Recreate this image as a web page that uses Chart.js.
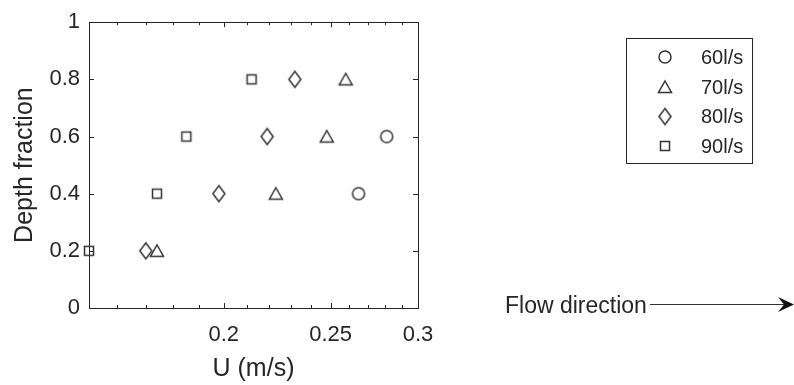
<!DOCTYPE html>
<html>
<head>
<meta charset="utf-8">
<script src="https://cdn.jsdelivr.net/npm/chart.js@4/dist/chart.umd.min.js"></script>
<style>
  html, body { margin: 0; padding: 0; background: #fff; }
  #wrap { width: 794px; height: 385px; }
</style>
</head>
<body>
<div id="wrap"><canvas id="chart" width="794" height="385"></canvas></div>
<script>
// data
const seriesLabels = ["60l/s", "70l/s", "80l/s", "90l/s"];
const depth60 = [0.4, 0.6];
const u60 = [0.265, 0.281];
const depthAll = [0.2, 0.4, 0.6, 0.8];
const u70 = [0.174, 0.223, 0.248, 0.258];
const u80 = [0.170, 0.198, 0.219, 0.232];
const u90 = [0.151, 0.174, 0.185, 0.212];

const xMajorTicks = [0.2, 0.25, 0.3];
const xMinorTicks = [0.16, 0.17, 0.18, 0.19, 0.21, 0.22, 0.23, 0.24, 0.26, 0.27, 0.28, 0.29];
const yTicks = [0, 0.2, 0.4, 0.6, 0.8, 1];

const INK = "#262626";
const MARK = "#333333";
const FONT = "'Liberation Sans', Arial, Helvetica, sans-serif";

function makeMarker(w, h, draw) {
  const c = document.createElement("canvas");
  c.width = w;
  c.height = h;
  const ctx = c.getContext("2d");
  ctx.strokeStyle = MARK;
  ctx.lineWidth = 1.5;
  ctx.beginPath();
  draw(ctx);
  ctx.stroke();
  return c;
}

const circleMark = makeMarker(20, 20, (ctx) => ctx.arc(10, 10, 6, 0, Math.PI * 2));
const triMark = makeMarker(20, 20, (ctx) => {
  ctx.moveTo(10, 4);
  ctx.lineTo(16.5, 15.5);
  ctx.lineTo(3.5, 15.5);
  ctx.closePath();
});
const diamondMark = makeMarker(16, 22, (ctx) => {
  ctx.moveTo(8, 3);
  ctx.lineTo(14, 11);
  ctx.lineTo(8, 19);
  ctx.lineTo(2, 11);
  ctx.closePath();
});
const squareMark = makeMarker(20, 20, (ctx) => ctx.rect(5.5, 5.5, 9, 9));
const markers = [circleMark, triMark, diamondMark, squareMark];

function pts(xs, ys) {
  return xs.map((x, i) => ({ x: x, y: ys[i] }));
}

const frame = {
  id: "frame",
  beforeDatasetsDraw(chart) {
    const ctx = chart.ctx;
    const { left, right, top, bottom } = chart.chartArea;
    const xs = chart.scales.x;
    const ys = chart.scales.y;
    ctx.save();
    ctx.strokeStyle = INK;
    ctx.lineWidth = 1;
    ctx.beginPath();
    const tick = (px, len) => {
      const p = Math.round(px) + 0.5;
      ctx.moveTo(p, bottom);
      ctx.lineTo(p, bottom - len);
      ctx.moveTo(p, top);
      ctx.lineTo(p, top + len);
    };
    xMinorTicks.forEach((v) => tick(xs.getPixelForValue(v), 3));
    xMajorTicks.forEach((v) => tick(xs.getPixelForValue(v), 5));
    yTicks.forEach((v) => {
      const p = Math.round(ys.getPixelForValue(v)) + 0.5;
      ctx.moveTo(left, p);
      ctx.lineTo(left + 5, p);
      ctx.moveTo(right, p);
      ctx.lineTo(right - 5, p);
    });
    ctx.stroke();
    ctx.strokeRect(Math.round(left) + 0.5, Math.round(top) + 0.5,
      Math.round(right - left), Math.round(bottom - top));
    ctx.restore();
  },
  afterDraw(chart) {
    const ctx = chart.ctx;
    ctx.save();
    // legend
    ctx.strokeStyle = INK;
    ctx.lineWidth = 1;
    ctx.fillStyle = "#fff";
    ctx.fillRect(626, 38, 126, 125);
    ctx.strokeRect(626.5, 38.5, 126, 125);
    ctx.fillStyle = INK;
    ctx.font = "20px " + FONT;
    ctx.textBaseline = "middle";
    ctx.textAlign = "left";
    const rowY = [57, 87, 116.5, 146];
    seriesLabels.forEach((lab, i) => {
      const m = markers[i];
      ctx.drawImage(m, 665 - m.width / 2, rowY[i] - m.height / 2);
      ctx.fillText(lab, 701, rowY[i] + 1);
    });
    // flow direction arrow
    ctx.font = "23px " + FONT;
    ctx.fillText("Flow direction", 505, 307);
    ctx.strokeStyle = MARK;
    ctx.beginPath();
    ctx.moveTo(650, 304.5);
    ctx.lineTo(784, 304.5);
    ctx.stroke();
    ctx.fillStyle = "#111";
    ctx.beginPath();
    ctx.moveTo(794, 304.5);
    ctx.lineTo(778, 297);
    ctx.lineTo(784, 304.5);
    ctx.lineTo(778, 312);
    ctx.closePath();
    ctx.fill();
    ctx.restore();
  },
};

Chart.defaults.font.family = FONT;
Chart.defaults.color = INK;

new Chart(document.getElementById("chart"), {
  type: "scatter",
  data: {
    datasets: [
      { label: seriesLabels[0], data: pts(u60, depth60), pointStyle: circleMark },
      { label: seriesLabels[1], data: pts(u70, depthAll), pointStyle: triMark },
      { label: seriesLabels[2], data: pts(u80, depthAll), pointStyle: diamondMark },
      { label: seriesLabels[3], data: pts(u90, depthAll), pointStyle: squareMark },
    ].map((d) => Object.assign(d, { clip: false, showLine: false })),
  },
  options: {
    responsive: false,
    animation: false,
    events: [],
    layout: { padding: { top: 19, right: 376, bottom: 0, left: 0 } },
    plugins: { legend: { display: false }, tooltip: { enabled: false } },
    scales: {
      x: {
        type: "logarithmic",
        min: 0.151,
        max: 0.3,
        grid: { display: false, drawTicks: false },
        border: { display: false },
        afterBuildTicks: (s) => { s.ticks = xMajorTicks.map((v) => ({ value: v })); },
        afterFit: (s) => { s.height = 77; },
        ticks: {
          padding: 14,
          maxRotation: 0,
          autoSkip: false,
          font: { size: 22 },
          callback: (v) => String(v),
        },
        title: {
          display: true,
          text: "U (m/s)",
          font: { size: 25 },
          padding: { top: 0, bottom: 1 },
        },
      },
      y: {
        min: 0,
        max: 1,
        grid: { display: false, drawTicks: false },
        border: { display: false },
        afterBuildTicks: (s) => { s.ticks = yTicks.map((v) => ({ value: v })); },
        afterFit: (s) => { s.width = 89; },
        ticks: {
          padding: 9,
          font: { size: 22 },
          callback: (v) => String(v),
        },
        title: {
          display: true,
          text: "Depth fraction",
          font: { size: 25 },
          padding: { top: 10, bottom: 0 },
        },
      },
    },
  },
  plugins: [frame],
});
</script>
</body>
</html>
